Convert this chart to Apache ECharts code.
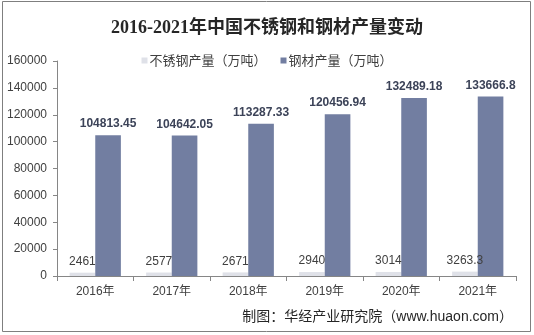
<!DOCTYPE html>
<html>
<head>
<meta charset="utf-8">
<script src="https://cdn.jsdelivr.net/npm/echarts@6/dist/echarts.min.js"></script>
<style>
  html, body { margin: 0; padding: 0; background: #ffffff; }
  #chart { width: 534px; height: 335px; }
</style>
</head>
<body>
<div id="chart"></div>
<script>
// Annual output, 2016-2021 (unit: 10k tonnes)
const years = ['2016年', '2017年', '2018年', '2019年', '2020年', '2021年'];
const stainlessOutput = [2461, 2577, 2671, 2940, 3014, 3263.3];
const steelOutput = [104813.45, 104642.05, 113287.33, 120456.94, 132489.18, 133666.8];
const yTicks = { min: 0, max: 160000, interval: 20000 };

const chart = echarts.init(document.getElementById('chart'));

const textColor = '#404040';
const axisColor = '#868686';

chart.setOption({
  backgroundColor: '#ffffff',
  animation: false,
  title: {
    text: '2016-2021年中国不锈钢和钢材产量变动',
    left: 'center',
    top: 14,
    textStyle: {
      fontFamily: '"Liberation Serif", "Noto Sans CJK SC", serif',
      fontWeight: 'bold',
      fontSize: 18,
      color: '#262626'
    }
  },
  legend: {
    top: 49,
    left: 'center',
    itemWidth: 6,
    itemHeight: 6,
    itemGap: 14,
    icon: 'rect',
    textStyle: {
      fontFamily: '"Noto Sans CJK SC", sans-serif',
      fontSize: 13,
      color: textColor,
      padding: [0, 0, 0, -3]
    },
    data: ['不锈钢产量（万吨）', '钢材产量（万吨）']
  },
  grid: {
    left: 57,
    right: 18,
    top: 61,
    bottom: 59
  },
  xAxis: {
    type: 'category',
    data: years,
    axisLine: { lineStyle: { color: axisColor, width: 1 } },
    axisTick: { show: true, length: 5, lineStyle: { color: axisColor } },
    axisLabel: {
      margin: 10,
      fontFamily: '"Liberation Sans", "Noto Sans CJK SC", sans-serif',
      fontSize: 12,
      color: textColor
    }
  },
  yAxis: {
    type: 'value',
    min: yTicks.min,
    max: yTicks.max,
    interval: yTicks.interval,
    axisLine: { show: true, lineStyle: { color: axisColor, width: 1 } },
    axisTick: { show: true, length: 4, lineStyle: { color: axisColor } },
    splitLine: { show: false },
    axisLabel: {
      margin: 10,
      formatter: (v) => String(v),
      fontFamily: '"Liberation Sans", sans-serif',
      fontSize: 12,
      color: textColor
    }
  },
  series: [
    {
      name: '不锈钢产量（万吨）',
      type: 'bar',
      data: stainlessOutput,
      barGap: '0%',
      barCategoryGap: '33%',
      itemStyle: { color: '#dfe1e8' },
      label: {
        show: true,
        position: 'top',
        distance: 5,
        formatter: (p) => String(p.value),
        fontFamily: '"Liberation Sans", sans-serif',
        fontSize: 12,
        color: textColor
      }
    },
    {
      name: '钢材产量（万吨）',
      type: 'bar',
      data: steelOutput,
      barGap: '0%',
      barCategoryGap: '33%',
      itemStyle: { color: '#727ea1' },
      label: {
        show: true,
        position: 'top',
        distance: 5,
        formatter: (p) => String(p.value),
        fontFamily: '"Liberation Sans", sans-serif',
        fontSize: 12,
        fontWeight: 'bold',
        color: '#3c4358'
      }
    }
  ],
  graphic: [
    {
      type: 'rect',
      shape: { x: 2.5, y: 1.5, width: 528, height: 330 },
      style: { fill: 'none', stroke: '#7f7f7f', lineWidth: 1 },
      silent: true
    },
    {
      type: 'text',
      right: 21,
      top: 310,
      style: {
        text: '制图：华经产业研究院（www.huaon.com）',
        font: '14px "Liberation Sans", "Noto Sans CJK SC", sans-serif',
        fill: '#262626'
      }
    }
  ]
});
</script>
</body>
</html>
